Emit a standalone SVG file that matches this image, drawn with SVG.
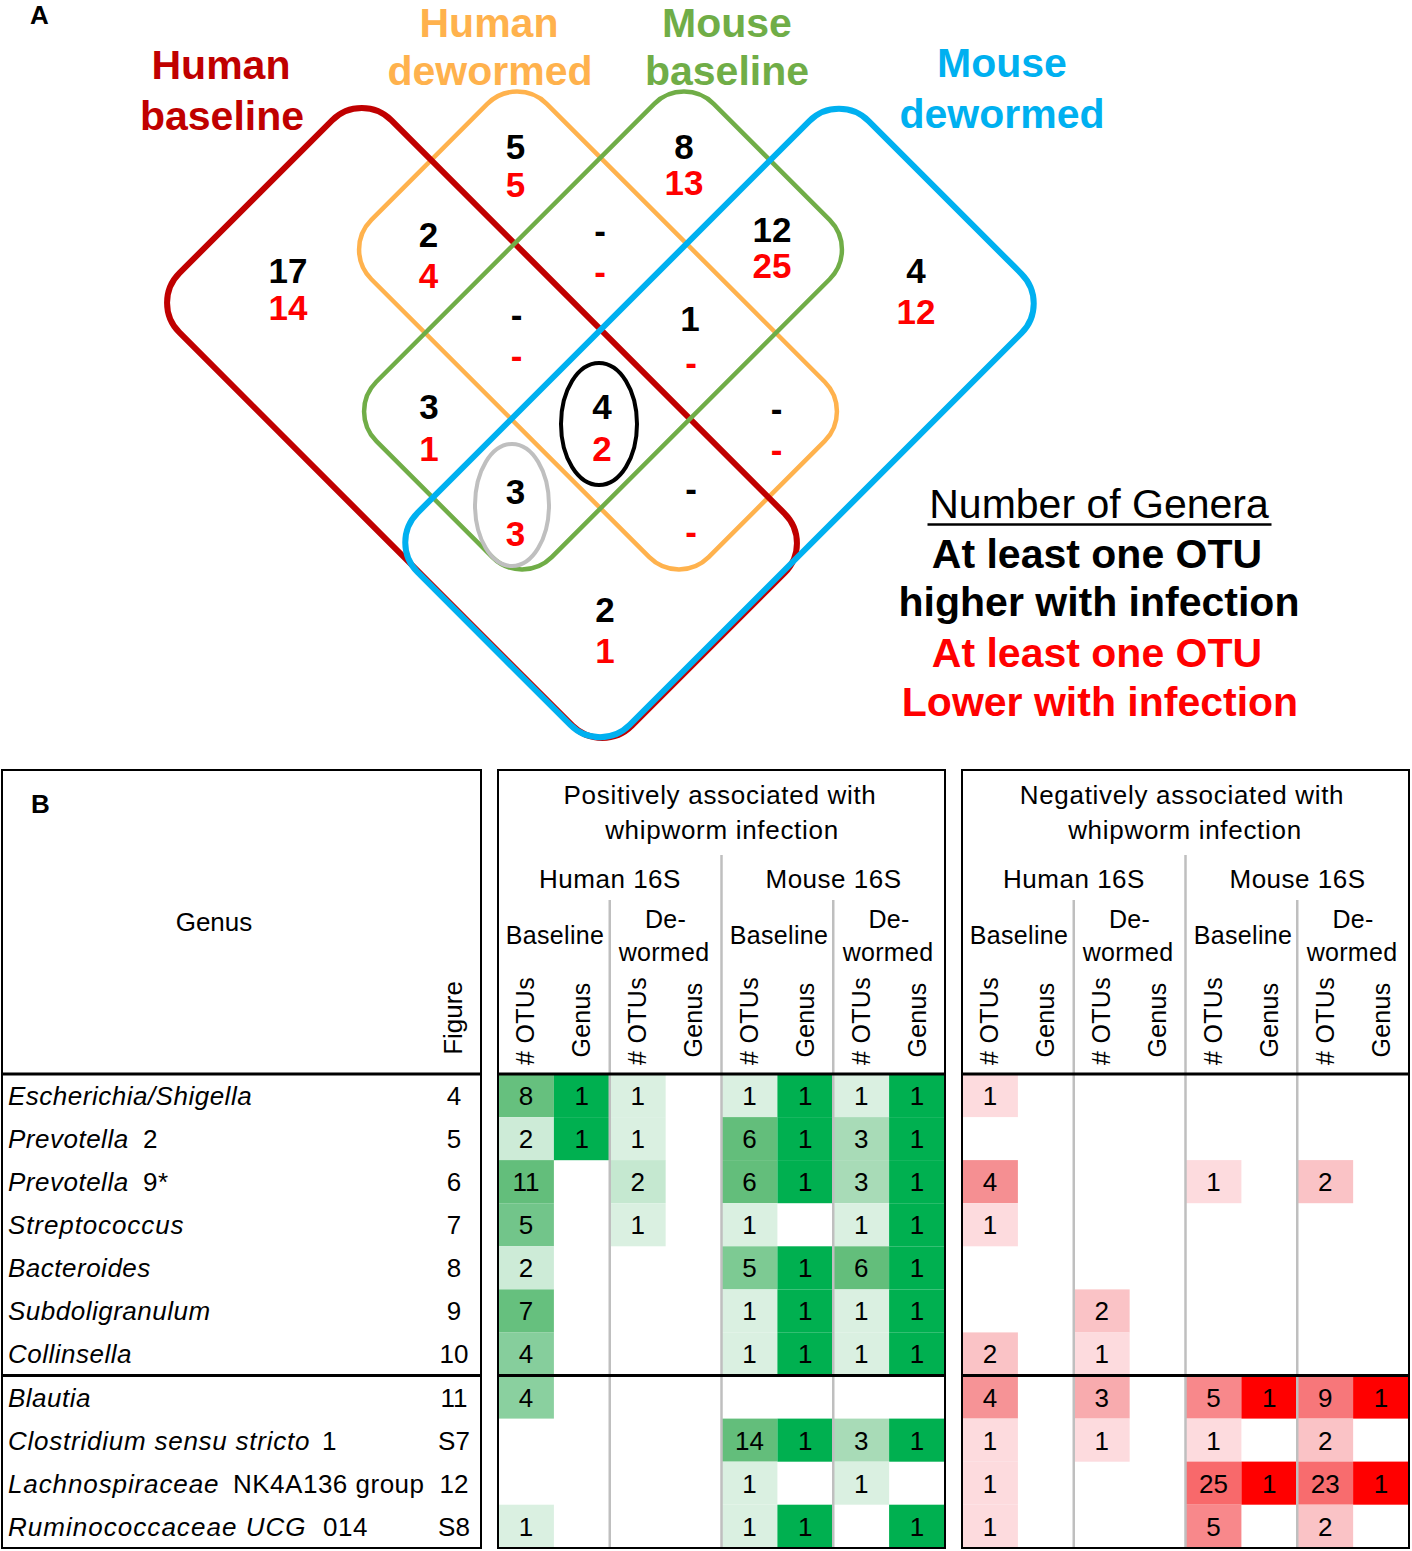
<svg xmlns="http://www.w3.org/2000/svg" width="1412" height="1551" viewBox="0 0 1412 1551">
<style>
text { font-family: "Liberation Sans", Arial, Helvetica, sans-serif; }
.lbl { font-size: 41px; font-weight: bold; text-anchor: middle; }
.num { font-size: 35px; font-weight: bold; text-anchor: middle; }
.k { fill: #000000; }
.r { fill: #FF0000; }
.set { fill: none; }
.panel { font-size: 26px; font-weight: bold; }
.leg { font-size: 41px; text-anchor: middle; }
.t { font-size: 26px; letter-spacing: 0.5px; }
.i { font-style: italic; }
.fig { font-size: 26px; text-anchor: middle; }
.c { font-size: 26px; text-anchor: middle; }
.h { font-size: 26px; text-anchor: middle; letter-spacing: 0.7px; }
.h2 { font-size: 26px; text-anchor: middle; letter-spacing: 0.5px; }
.s { font-size: 25px; text-anchor: middle; letter-spacing: 0.3px; }
.rot { font-size: 25px; text-anchor: middle; letter-spacing: 0.3px; }
.box { fill: none; stroke: #000000; stroke-width: 2; }
.sep { stroke: #000000; stroke-width: 3; }
.gl { stroke: #BFBFBF; stroke-width: 2.5; }
</style>

<!-- ================= Panel A : Venn ================= -->
<text class="panel" x="30" y="24">A</text>

<g id="set-human-dewormed">
  <rect class="set" x="-238.5" y="-124" width="477" height="248" rx="42" transform="translate(598,330.5) rotate(45)" stroke="#FFB24D" stroke-width="4.5"/>
  <text class="lbl" x="489" y="37" fill="#FFB24D">Human</text>
  <text class="lbl" x="490" y="85" fill="#FFB24D">dewormed</text>
</g>
<g id="set-human-baseline">
  <rect class="set" x="-320" y="-150" width="640" height="300" rx="42" transform="translate(482,423) rotate(45)" stroke="#C00000" stroke-width="6"/>
  <text class="lbl" x="221" y="79" fill="#C00000">Human</text>
  <text class="lbl" x="222" y="130" fill="#C00000">baseline</text>
</g>
<g id="set-mouse-baseline">
  <rect class="set" x="-124" y="-238.5" width="248" height="477" rx="42" transform="translate(603,330.5) rotate(45)" stroke="#70AD47" stroke-width="4.5"/>
  <text class="lbl" x="727" y="37" fill="#70AD47">Mouse</text>
  <text class="lbl" x="727" y="85" fill="#70AD47">baseline</text>
</g>
<g id="set-mouse-dewormed">
  <rect class="set" x="-150" y="-319" width="300" height="638" rx="42" transform="translate(719.5,423) rotate(45)" stroke="#00B0F0" stroke-width="6"/>
  <text class="lbl" x="1002" y="77" fill="#00B0F0">Mouse</text>
  <text class="lbl" x="1002" y="128" fill="#00B0F0">dewormed</text>
</g>

<g id="highlight-ellipses">
  <ellipse cx="599" cy="424" rx="38" ry="61" fill="none" stroke="#000000" stroke-width="4"/>
  <ellipse cx="512" cy="505" rx="37" ry="61" fill="none" stroke="#BFBFBF" stroke-width="4"/>
</g>

<g id="venn-counts">
  <text class="num k" x="515.5" y="159">5</text><text class="num r" x="515.5" y="197">5</text>
  <text class="num k" x="684" y="159">8</text><text class="num r" x="684" y="195">13</text>
  <text class="num k" x="428.5" y="247">2</text><text class="num r" x="428.5" y="288">4</text>
  <text class="num k" x="600" y="243">-</text><text class="num r" x="600" y="284">-</text>
  <text class="num k" x="772" y="242">12</text><text class="num r" x="772" y="278">25</text>
  <text class="num k" x="288" y="283">17</text><text class="num r" x="288" y="320">14</text>
  <text class="num k" x="916" y="283">4</text><text class="num r" x="916" y="324">12</text>
  <text class="num k" x="516.5" y="327">-</text><text class="num r" x="516.5" y="368">-</text>
  <text class="num k" x="690" y="331">1</text><text class="num r" x="691" y="375">-</text>
  <text class="num k" x="429" y="419">3</text><text class="num r" x="429" y="461">1</text>
  <text class="num k" x="602" y="419">4</text><text class="num r" x="602" y="461">2</text>
  <text class="num k" x="776.5" y="421">-</text><text class="num r" x="776.5" y="462">-</text>
  <text class="num k" x="515.5" y="504">3</text><text class="num r" x="515.5" y="546">3</text>
  <text class="num k" x="691" y="501">-</text><text class="num r" x="691" y="544">-</text>
  <text class="num k" x="605" y="622">2</text><text class="num r" x="605" y="663">1</text>
</g>

<g id="legend">
  <text class="leg" x="1099" y="518">Number of Genera</text>
  <line x1="927.5" y1="524.5" x2="1271.5" y2="524.5" stroke="#000000" stroke-width="2.5"/>
  <text class="leg k" x="1097" y="568" font-weight="bold">At least one OTU</text>
  <text class="leg k" x="1099" y="616" font-weight="bold">higher with infection</text>
  <text class="leg r" x="1097" y="667" font-weight="bold">At least one OTU</text>
  <text class="leg r" x="1100" y="716" font-weight="bold">Lower with infection</text>
</g>

<!-- ================= Panel B : Table ================= -->
<g id="genus-column">
  <text class="panel" x="31" y="813">B</text>
  <text class="fig" x="214" y="931">Genus</text>
  <text class="fig" transform="translate(462,1018) rotate(-90)">Figure</text>
  <text class="t i" x="8" y="1105">Escherichia/Shigella</text>
  <text class="t i" x="8" y="1148.1">Prevotella</text><text class="t" x="143" y="1148.1">2</text>
  <text class="t i" x="8" y="1191.1">Prevotella</text><text class="t" x="143" y="1191.1">9*</text>
  <text class="t i" x="8" y="1234.2" textLength="176" lengthAdjust="spacing">Streptococcus</text>
  <text class="t i" x="8" y="1277.3">Bacteroides</text>
  <text class="t i" x="8" y="1320.4">Subdoligranulum</text>
  <text class="t i" x="8" y="1363.4">Collinsella</text>
  <text class="t i" x="8" y="1406.5">Blautia</text>
  <text class="t i" x="8" y="1449.6" textLength="302" lengthAdjust="spacing">Clostridium sensu stricto</text><text class="t" x="322" y="1449.6">1</text>
  <text class="t i" x="8" y="1492.6" textLength="211" lengthAdjust="spacing">Lachnospiraceae</text><text class="t" x="233" y="1492.6">NK4A136 group</text>
  <text class="t i" x="8" y="1535.7" textLength="298" lengthAdjust="spacing">Ruminococcaceae UCG</text><text class="t" x="323" y="1535.7">014</text>
  <text class="c" x="454" y="1105">4</text>
  <text class="c" x="454" y="1148.1">5</text>
  <text class="c" x="454" y="1191.1">6</text>
  <text class="c" x="454" y="1234.2">7</text>
  <text class="c" x="454" y="1277.3">8</text>
  <text class="c" x="454" y="1320.4">9</text>
  <text class="c" x="454" y="1363.4">10</text>
  <text class="c" x="454" y="1406.5">11</text>
  <text class="c" x="454" y="1449.6">S7</text>
  <text class="c" x="454" y="1492.6">12</text>
  <text class="c" x="454" y="1535.7">S8</text>
  <rect class="box" x="2" y="770" width="479" height="778"/>
  <line class="sep" x1="2" y1="1074" x2="481" y2="1074"/>
  <line class="sep" x1="2" y1="1375.5" x2="481" y2="1375.5"/>
</g>

<g id="positive-block">
  <g id="pos-cells">
    <rect x="498" y="1074" width="55.9" height="43.1" fill="#66C07E"/>
    <rect x="553.9" y="1074" width="55.9" height="43.1" fill="#00B050"/>
    <rect x="609.75" y="1074" width="55.9" height="43.1" fill="#DAF0E1"/>
    <rect x="721.5" y="1074" width="55.9" height="43.1" fill="#DAF0E1"/>
    <rect x="777.4" y="1074" width="55.9" height="43.1" fill="#00B050"/>
    <rect x="833.25" y="1074" width="55.9" height="43.1" fill="#DAF0E1"/>
    <rect x="889.1" y="1074" width="55.9" height="43.1" fill="#00B050"/>

    <rect x="498" y="1117.1" width="55.9" height="43.1" fill="#CDEBD7"/>
    <rect x="553.9" y="1117.1" width="55.9" height="43.1" fill="#00B050"/>
    <rect x="609.75" y="1117.1" width="55.9" height="43.1" fill="#DAF0E1"/>
    <rect x="721.5" y="1117.1" width="55.9" height="43.1" fill="#63BE7B"/>
    <rect x="777.4" y="1117.1" width="55.9" height="43.1" fill="#00B050"/>
    <rect x="833.25" y="1117.1" width="55.9" height="43.1" fill="#A8DBB7"/>
    <rect x="889.1" y="1117.1" width="55.9" height="43.1" fill="#00B050"/>

    <rect x="498" y="1160.1" width="55.9" height="43.1" fill="#63BE7B"/>
    <rect x="609.75" y="1160.1" width="55.9" height="43.1" fill="#C5E8D0"/>
    <rect x="721.5" y="1160.1" width="55.9" height="43.1" fill="#63BE7B"/>
    <rect x="777.4" y="1160.1" width="55.9" height="43.1" fill="#00B050"/>
    <rect x="833.25" y="1160.1" width="55.9" height="43.1" fill="#A8DBB7"/>
    <rect x="889.1" y="1160.1" width="55.9" height="43.1" fill="#00B050"/>

    <rect x="498" y="1203.2" width="55.9" height="43.1" fill="#72C58A"/>
    <rect x="609.75" y="1203.2" width="55.9" height="43.1" fill="#DAF0E1"/>
    <rect x="721.5" y="1203.2" width="55.9" height="43.1" fill="#DAF0E1"/>
    <rect x="833.25" y="1203.2" width="55.9" height="43.1" fill="#DAF0E1"/>
    <rect x="889.1" y="1203.2" width="55.9" height="43.1" fill="#00B050"/>

    <rect x="498" y="1246.3" width="55.9" height="43.1" fill="#CDEBD7"/>
    <rect x="721.5" y="1246.3" width="55.9" height="43.1" fill="#7DCA93"/>
    <rect x="777.4" y="1246.3" width="55.9" height="43.1" fill="#00B050"/>
    <rect x="833.25" y="1246.3" width="55.9" height="43.1" fill="#63BE7B"/>
    <rect x="889.1" y="1246.3" width="55.9" height="43.1" fill="#00B050"/>

    <rect x="498" y="1289.4" width="55.9" height="43.1" fill="#66C07E"/>
    <rect x="721.5" y="1289.4" width="55.9" height="43.1" fill="#DAF0E1"/>
    <rect x="777.4" y="1289.4" width="55.9" height="43.1" fill="#00B050"/>
    <rect x="833.25" y="1289.4" width="55.9" height="43.1" fill="#DAF0E1"/>
    <rect x="889.1" y="1289.4" width="55.9" height="43.1" fill="#00B050"/>

    <rect x="498" y="1332.4" width="55.9" height="43.1" fill="#86CE9C"/>
    <rect x="721.5" y="1332.4" width="55.9" height="43.1" fill="#DAF0E1"/>
    <rect x="777.4" y="1332.4" width="55.9" height="43.1" fill="#00B050"/>
    <rect x="833.25" y="1332.4" width="55.9" height="43.1" fill="#DAF0E1"/>
    <rect x="889.1" y="1332.4" width="55.9" height="43.1" fill="#00B050"/>

    <rect x="498" y="1375.5" width="55.9" height="43.1" fill="#8AD09F"/>

    <rect x="721.5" y="1418.6" width="55.9" height="43.1" fill="#63BE7B"/>
    <rect x="777.4" y="1418.6" width="55.9" height="43.1" fill="#00B050"/>
    <rect x="833.25" y="1418.6" width="55.9" height="43.1" fill="#A8DBB7"/>
    <rect x="889.1" y="1418.6" width="55.9" height="43.1" fill="#00B050"/>

    <rect x="721.5" y="1461.6" width="55.9" height="43.1" fill="#DAF0E1"/>
    <rect x="833.25" y="1461.6" width="55.9" height="43.1" fill="#DAF0E1"/>

    <rect x="498" y="1504.7" width="55.9" height="43.1" fill="#DAF0E1"/>
    <rect x="721.5" y="1504.7" width="55.9" height="43.1" fill="#DAF0E1"/>
    <rect x="777.4" y="1504.7" width="55.9" height="43.1" fill="#00B050"/>
    <rect x="889.1" y="1504.7" width="55.9" height="43.1" fill="#00B050"/>
  </g>
  <g id="pos-values">
    <text class="c" x="525.9" y="1105">8</text><text class="c" x="581.8" y="1105">1</text><text class="c" x="637.7" y="1105">1</text><text class="c" x="749.4" y="1105">1</text><text class="c" x="805.3" y="1105">1</text><text class="c" x="861.2" y="1105">1</text><text class="c" x="917" y="1105">1</text>
    <text class="c" x="525.9" y="1148.1">2</text><text class="c" x="581.8" y="1148.1">1</text><text class="c" x="637.7" y="1148.1">1</text><text class="c" x="749.4" y="1148.1">6</text><text class="c" x="805.3" y="1148.1">1</text><text class="c" x="861.2" y="1148.1">3</text><text class="c" x="917" y="1148.1">1</text>
    <text class="c" x="525.9" y="1191.1">11</text><text class="c" x="637.7" y="1191.1">2</text><text class="c" x="749.4" y="1191.1">6</text><text class="c" x="805.3" y="1191.1">1</text><text class="c" x="861.2" y="1191.1">3</text><text class="c" x="917" y="1191.1">1</text>
    <text class="c" x="525.9" y="1234.2">5</text><text class="c" x="637.7" y="1234.2">1</text><text class="c" x="749.4" y="1234.2">1</text><text class="c" x="861.2" y="1234.2">1</text><text class="c" x="917" y="1234.2">1</text>
    <text class="c" x="525.9" y="1277.3">2</text><text class="c" x="749.4" y="1277.3">5</text><text class="c" x="805.3" y="1277.3">1</text><text class="c" x="861.2" y="1277.3">6</text><text class="c" x="917" y="1277.3">1</text>
    <text class="c" x="525.9" y="1320.4">7</text><text class="c" x="749.4" y="1320.4">1</text><text class="c" x="805.3" y="1320.4">1</text><text class="c" x="861.2" y="1320.4">1</text><text class="c" x="917" y="1320.4">1</text>
    <text class="c" x="525.9" y="1363.4">4</text><text class="c" x="749.4" y="1363.4">1</text><text class="c" x="805.3" y="1363.4">1</text><text class="c" x="861.2" y="1363.4">1</text><text class="c" x="917" y="1363.4">1</text>
    <text class="c" x="525.9" y="1406.5">4</text>
    <text class="c" x="749.4" y="1449.6">14</text><text class="c" x="805.3" y="1449.6">1</text><text class="c" x="861.2" y="1449.6">3</text><text class="c" x="917" y="1449.6">1</text>
    <text class="c" x="749.4" y="1492.6">1</text><text class="c" x="861.2" y="1492.6">1</text>
    <text class="c" x="525.9" y="1535.7">1</text><text class="c" x="749.4" y="1535.7">1</text><text class="c" x="805.3" y="1535.7">1</text><text class="c" x="917" y="1535.7">1</text>
  </g>
  <g id="pos-header">
    <text class="h" x="720" y="804">Positively associated with</text>
    <text class="h" x="722" y="839">whipworm infection</text>
    <text class="h2" x="610" y="887.5">Human 16S</text>
    <text class="h2" x="833.5" y="887.5">Mouse 16S</text>
    <text class="s" x="555" y="944">Baseline</text>
    <text class="s" x="665.6" y="928">De-</text>
    <text class="s" x="664" y="961">wormed</text>
    <text class="s" x="779" y="944">Baseline</text>
    <text class="s" x="889" y="928">De-</text>
    <text class="s" x="888" y="961">wormed</text>
    <text class="rot" transform="translate(534.4,1021) rotate(-90)"># OTUs</text>
    <text class="rot" transform="translate(590.3,1020) rotate(-90)">Genus</text>
    <text class="rot" transform="translate(646.2,1021) rotate(-90)"># OTUs</text>
    <text class="rot" transform="translate(702.1,1020) rotate(-90)">Genus</text>
    <text class="rot" transform="translate(757.9,1021) rotate(-90)"># OTUs</text>
    <text class="rot" transform="translate(813.8,1020) rotate(-90)">Genus</text>
    <text class="rot" transform="translate(869.7,1021) rotate(-90)"># OTUs</text>
    <text class="rot" transform="translate(925.5,1020) rotate(-90)">Genus</text>
  </g>
  <line class="gl" x1="609.75" y1="900" x2="609.75" y2="1548"/>
  <line class="gl" x1="721.5" y1="855" x2="721.5" y2="1548"/>
  <line class="gl" x1="833.25" y1="900" x2="833.25" y2="1548"/>
  <rect class="box" x="498" y="770" width="447" height="778"/>
  <line class="sep" x1="498" y1="1074" x2="945" y2="1074"/>
  <line class="sep" x1="498" y1="1375.5" x2="945" y2="1375.5"/>
</g>

<g id="negative-block">
  <g id="neg-cells">
    <rect x="962" y="1074" width="55.9" height="43.1" fill="#FDDBDE"/>

    <rect x="962" y="1160.1" width="55.9" height="43.1" fill="#F58F92"/>
    <rect x="1185.5" y="1160.1" width="55.9" height="43.1" fill="#FDDBDE"/>
    <rect x="1297.25" y="1160.1" width="55.9" height="43.1" fill="#FAC3C6"/>

    <rect x="962" y="1203.2" width="55.9" height="43.1" fill="#FDDBDE"/>

    <rect x="1073.75" y="1289.4" width="55.9" height="43.1" fill="#FAC3C6"/>

    <rect x="962" y="1332.4" width="55.9" height="43.1" fill="#FAC3C6"/>
    <rect x="1073.75" y="1332.4" width="55.9" height="43.1" fill="#FDDBDE"/>

    <rect x="962" y="1375.5" width="55.9" height="43.1" fill="#F69396"/>
    <rect x="1073.75" y="1375.5" width="55.9" height="43.1" fill="#F8ABAE"/>
    <rect x="1185.5" y="1375.5" width="55.9" height="43.1" fill="#F8888B"/>
    <rect x="1241.4" y="1375.5" width="55.9" height="43.1" fill="#FF0000"/>
    <rect x="1297.25" y="1375.5" width="55.9" height="43.1" fill="#F7777A"/>
    <rect x="1353.1" y="1375.5" width="55.9" height="43.1" fill="#FF0000"/>

    <rect x="962" y="1418.6" width="55.9" height="43.1" fill="#FDDBDE"/>
    <rect x="1073.75" y="1418.6" width="55.9" height="43.1" fill="#FDDBDE"/>
    <rect x="1185.5" y="1418.6" width="55.9" height="43.1" fill="#FDDBDE"/>
    <rect x="1297.25" y="1418.6" width="55.9" height="43.1" fill="#FAC3C6"/>

    <rect x="962" y="1461.6" width="55.9" height="43.1" fill="#FDDBDE"/>
    <rect x="1185.5" y="1461.6" width="55.9" height="43.1" fill="#F8696B"/>
    <rect x="1241.4" y="1461.6" width="55.9" height="43.1" fill="#FF0000"/>
    <rect x="1297.25" y="1461.6" width="55.9" height="43.1" fill="#F86C6E"/>
    <rect x="1353.1" y="1461.6" width="55.9" height="43.1" fill="#FF0000"/>

    <rect x="962" y="1504.7" width="55.9" height="43.1" fill="#FDDBDE"/>
    <rect x="1185.5" y="1504.7" width="55.9" height="43.1" fill="#F8888B"/>
    <rect x="1297.25" y="1504.7" width="55.9" height="43.1" fill="#FAC3C6"/>
  </g>
  <g id="neg-values">
    <text class="c" x="989.9" y="1105">1</text>
    <text class="c" x="989.9" y="1191.1">4</text><text class="c" x="1213.4" y="1191.1">1</text><text class="c" x="1325.2" y="1191.1">2</text>
    <text class="c" x="989.9" y="1234.2">1</text>
    <text class="c" x="1101.7" y="1320.4">2</text>
    <text class="c" x="989.9" y="1363.4">2</text><text class="c" x="1101.7" y="1363.4">1</text>
    <text class="c" x="989.9" y="1406.5">4</text><text class="c" x="1101.7" y="1406.5">3</text><text class="c" x="1213.4" y="1406.5">5</text><text class="c" x="1269.3" y="1406.5">1</text><text class="c" x="1325.2" y="1406.5">9</text><text class="c" x="1381" y="1406.5">1</text>
    <text class="c" x="989.9" y="1449.6">1</text><text class="c" x="1101.7" y="1449.6">1</text><text class="c" x="1213.4" y="1449.6">1</text><text class="c" x="1325.2" y="1449.6">2</text>
    <text class="c" x="989.9" y="1492.6">1</text><text class="c" x="1213.4" y="1492.6">25</text><text class="c" x="1269.3" y="1492.6">1</text><text class="c" x="1325.2" y="1492.6">23</text><text class="c" x="1381" y="1492.6">1</text>
    <text class="c" x="989.9" y="1535.7">1</text><text class="c" x="1213.4" y="1535.7">5</text><text class="c" x="1325.2" y="1535.7">2</text>
  </g>
  <g id="neg-header">
    <text class="h" x="1182" y="804">Negatively associated with</text>
    <text class="h" x="1185" y="839">whipworm infection</text>
    <text class="h2" x="1074" y="887.5">Human 16S</text>
    <text class="h2" x="1297.5" y="887.5">Mouse 16S</text>
    <text class="s" x="1019" y="944">Baseline</text>
    <text class="s" x="1129.6" y="928">De-</text>
    <text class="s" x="1128" y="961">wormed</text>
    <text class="s" x="1243" y="944">Baseline</text>
    <text class="s" x="1353" y="928">De-</text>
    <text class="s" x="1352" y="961">wormed</text>
    <text class="rot" transform="translate(998.4,1021) rotate(-90)"># OTUs</text>
    <text class="rot" transform="translate(1054.3,1020) rotate(-90)">Genus</text>
    <text class="rot" transform="translate(1110.2,1021) rotate(-90)"># OTUs</text>
    <text class="rot" transform="translate(1166,1020) rotate(-90)">Genus</text>
    <text class="rot" transform="translate(1221.9,1021) rotate(-90)"># OTUs</text>
    <text class="rot" transform="translate(1277.8,1020) rotate(-90)">Genus</text>
    <text class="rot" transform="translate(1333.7,1021) rotate(-90)"># OTUs</text>
    <text class="rot" transform="translate(1389.5,1020) rotate(-90)">Genus</text>
  </g>
  <line class="gl" x1="1073.75" y1="900" x2="1073.75" y2="1548"/>
  <line class="gl" x1="1185.5" y1="855" x2="1185.5" y2="1548"/>
  <line class="gl" x1="1297.25" y1="900" x2="1297.25" y2="1548"/>
  <rect class="box" x="962" y="770" width="447" height="778"/>
  <line class="sep" x1="962" y1="1074" x2="1409" y2="1074"/>
  <line class="sep" x1="962" y1="1375.5" x2="1409" y2="1375.5"/>
</g>
</svg>
